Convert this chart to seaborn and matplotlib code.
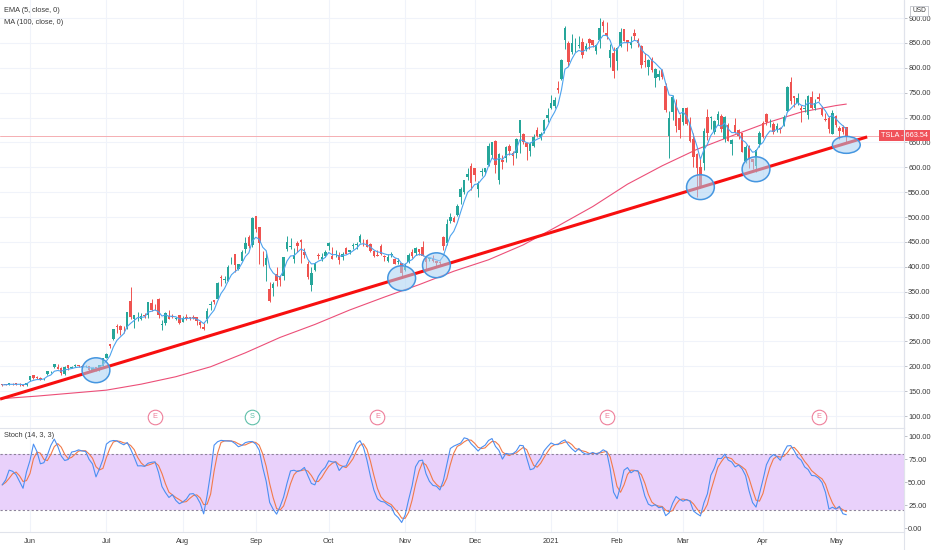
import numpy as np
import pandas as pd
import matplotlib
matplotlib.use("Agg")
import matplotlib.pyplot as plt
import matplotlib.transforms as mtransforms
from matplotlib.patches import Ellipse
import seaborn as sns

# TSLA daily candles, 2020-05-19 .. 2021-05-06 (one row per month)
opens = [
    163.0, 164.1, 163.2, 164.4, 166.0, 164.2, 162.7, 162.2,
    171.6, 182.0, 177.6, 177.0, 175.6, 183.8, 188.0, 198.4, 198.0, 196.0, 183.6, 202.4, 197.5, 200.6, 202.6, 200.6, 199.8, 199.8, 192.0, 198.0, 193.8, 201.3,
    216.6, 244.3, 255.3, 281.0, 281.0, 279.4, 279.2, 331.8, 295.4, 308.6, 295.4, 302.7, 303.8, 327.0, 319.8, 335.8, 283.2, 287.0, 300.8, 300.2, 294.0, 303.0,
    289.8, 299.0, 298.6, 298.2, 299.9, 289.6, 279.2, 294.0, 322.2, 333.0, 335.4, 379.8, 373.0, 372.1, 409.0, 425.3, 394.9, 412.0, 436.1, 459.0, 444.6,
    502.1, 479.0, 407.2, 402.8, 356.0, 356.6, 386.2, 381.9, 381.0, 436.6, 439.9, 415.6, 447.9, 453.1, 429.6, 405.2, 363.8, 393.5, 424.6, 416.0, 421.3,
    440.8, 421.4, 423.4, 423.8, 419.9, 438.4, 430.1, 442.0, 443.4, 449.8, 450.3, 454.4, 446.2, 431.8, 422.7, 441.9, 421.8, 411.6, 423.8, 416.5, 410.0, 406.9,
    394.0, 409.7, 430.6, 428.3, 436.1, 439.5, 420.1, 416.5, 415.1, 410.9, 408.9, 460.2, 448.4, 492.0, 498.0, 503.5, 540.4, 550.1, 581.2, 602.2,
    597.6, 556.4, 590.0, 591.0, 604.9, 625.5, 653.7, 574.4, 615.0, 619.0, 643.3, 628.2, 628.2, 668.9, 666.2, 648.0, 632.2, 643.0, 674.5, 661.0, 672.0, 700.0,
    719.5, 723.7, 758.5, 777.6, 856.0, 849.4, 831.0, 852.8, 843.4, 852.0, 837.8, 858.7, 855.0, 834.3, 855.0, 891.4, 870.4, 820.0, 830.0,
    814.3, 844.7, 877.0, 855.0, 845.0, 869.7, 855.1, 843.6, 812.4, 801.3, 818.0, 779.1, 780.9, 795.0, 762.6, 662.1, 711.9, 726.2, 700.0,
    690.1, 718.3, 688.0, 655.8, 626.1, 600.6, 608.2, 700.3, 699.4, 670.0, 694.1, 703.4, 656.9, 684.3, 646.6, 684.6, 675.8, 667.9, 613.0, 641.9, 615.6, 601.8, 646.6,
    688.4, 707.7, 690.3, 687.0, 677.4, 677.8, 685.7, 712.7, 770.7, 743.1, 728.7, 719.6, 717.4, 704.8, 741.5, 719.8, 741.0, 718.0, 696.4, 699.5, 667.6,
    703.8, 678.9, 681.1, 680.8,
]
highs = [
    164.4, 164.5, 166.3, 165.8, 166.8, 165.4, 164.9, 167.0,
    179.8, 182.0, 179.6, 179.2, 177.3, 190.0, 190.9, 205.5, 203.8, 197.6, 199.8, 202.6, 201.0, 203.8, 203.2, 201.6, 202.4, 200.2, 197.6, 199.0, 202.0, 217.5,
    227.1, 245.6, 275.6, 285.9, 283.5, 281.7, 309.8, 359.0, 304.0, 310.0, 306.3, 307.5, 330.0, 335.0, 325.3, 337.8, 293.0, 309.6, 312.9, 306.0, 299.0, 303.4,
    302.0, 305.5, 300.0, 303.5, 300.0, 291.5, 286.6, 317.0, 330.2, 333.8, 369.2, 384.0, 382.2, 404.4, 419.1, 425.8, 405.6, 433.2, 459.1, 463.7, 500.1,
    502.5, 479.0, 431.8, 428.0, 368.7, 369.0, 399.0, 382.5, 420.0, 461.9, 457.8, 437.8, 451.0, 455.7, 437.8, 412.2, 399.5, 408.7, 428.1, 428.5, 433.9,
    448.9, 439.1, 433.6, 428.8, 429.9, 439.0, 434.5, 448.7, 448.9, 465.9, 456.6, 455.0, 447.0, 431.8, 433.0, 445.2, 422.9, 425.8, 430.5, 418.6, 418.1, 407.6,
    407.0, 427.8, 435.4, 440.0, 436.6, 452.5, 420.1, 418.7, 423.0, 412.5, 412.5, 462.0, 496.0, 508.6, 502.5, 526.0, 560.0, 574.0, 598.8, 607.8,
    597.9, 571.5, 599.0, 599.0, 648.8, 651.3, 654.3, 627.8, 624.0, 642.8, 646.9, 632.5, 658.8, 695.0, 668.5, 649.9, 651.5, 666.1, 681.4, 669.9, 696.6, 718.7,
    744.5, 740.8, 774.0, 817.0, 884.5, 854.4, 868.0, 860.5, 863.0, 859.9, 850.0, 859.5, 855.7, 848.0, 900.4, 895.9, 891.5, 848.0, 842.4,
    842.0, 880.5, 878.1, 856.5, 864.8, 877.8, 859.8, 844.8, 829.9, 817.3, 821.0, 799.8, 794.7, 796.8, 768.5, 713.6, 745.0, 737.2, 706.7,
    719.0, 721.1, 700.7, 668.5, 627.8, 620.1, 678.1, 717.9, 702.5, 694.9, 713.2, 707.9, 703.7, 689.2, 657.2, 699.6, 677.8, 668.0, 645.5, 643.8, 616.5, 637.7, 672.0,
    692.4, 708.2, 696.6, 691.4, 689.6, 681.0, 704.8, 763.0, 780.8, 743.7, 749.4, 725.4, 737.3, 745.0, 753.8, 737.4, 749.3, 724.0, 708.5, 702.3, 715.5,
    706.0, 683.5, 685.3, 681.0,
]
lows = [
    161.2, 162.8, 161.6, 162.6, 163.3, 159.7, 160.8, 161.0,
    170.8, 175.3, 175.0, 171.7, 173.2, 181.8, 187.4, 196.5, 194.4, 182.5, 181.7, 192.5, 196.5, 198.9, 198.3, 198.0, 198.8, 190.0, 191.0, 190.0, 189.7, 200.8,
    216.1, 237.1, 253.2, 267.3, 262.3, 267.1, 275.2, 294.2, 277.5, 291.4, 293.2, 298.0, 297.6, 311.6, 312.4, 296.2, 273.3, 282.6, 294.9, 297.4, 293.0, 284.2,
    288.9, 293.0, 293.7, 295.5, 283.0, 277.2, 272.6, 287.0, 313.5, 325.0, 334.6, 362.0, 368.2, 371.4, 405.0, 388.5, 393.6, 410.7, 428.5, 437.3, 440.1,
    470.5, 405.1, 402.0, 372.0, 329.9, 341.5, 360.6, 360.5, 373.3, 430.7, 435.3, 408.0, 428.8, 407.1, 417.6, 375.9, 351.3, 391.3, 415.6, 411.6, 420.5,
    434.4, 415.0, 419.3, 406.1, 413.9, 425.3, 426.3, 436.6, 436.6, 447.4, 442.5, 438.9, 428.9, 419.1, 421.3, 424.5, 410.6, 410.0, 420.1, 406.0, 406.5, 379.1,
    392.3, 406.7, 417.1, 424.0, 424.3, 421.0, 396.0, 410.6, 409.5, 401.7, 404.1, 433.0, 443.5, 487.6, 489.1, 501.8, 526.2, 545.4, 574.6, 554.5,
    572.1, 541.2, 582.4, 585.5, 603.1, 618.5, 588.0, 566.3, 596.8, 610.2, 623.8, 605.0, 619.5, 628.5, 646.1, 614.2, 622.6, 641.0, 660.8, 655.0, 668.4, 691.1,
    717.2, 719.2, 749.1, 775.2, 838.4, 803.6, 827.3, 832.0, 838.8, 819.1, 833.0, 837.3, 841.4, 828.6, 838.8, 871.6, 858.7, 801.0, 780.1,
    795.6, 842.2, 853.1, 833.4, 839.0, 854.8, 841.8, 800.0, 801.7, 785.3, 792.4, 762.0, 776.3, 777.4, 710.2, 619.0, 694.2, 670.6, 659.5,
    685.1, 685.0, 651.7, 600.0, 539.5, 558.8, 595.2, 655.1, 677.2, 666.1, 684.0, 671.0, 651.0, 652.0, 624.6, 668.8, 657.5, 630.1, 609.5, 599.0, 596.0, 591.0, 641.1,
    659.4, 684.7, 681.4, 667.8, 671.7, 669.4, 682.1, 710.7, 728.0, 721.3, 724.6, 691.8, 710.7, 698.0, 718.0, 715.5, 732.6, 703.4, 693.6, 668.5, 666.1,
    680.5, 657.7, 667.3, 650.0,
]
closes = [
    162.7, 163.1, 165.5, 163.4, 163.8, 164.1, 161.2, 167.0,
    179.6, 176.3, 176.6, 172.9, 177.1, 190.0, 188.1, 205.0, 194.6, 187.1, 198.2, 196.4, 198.4, 200.8, 200.2, 198.9, 200.4, 192.2, 197.2, 191.9, 201.9, 216.0,
    223.9, 241.7, 274.3, 278.0, 273.2, 278.9, 308.9, 299.4, 303.4, 309.2, 300.1, 300.2, 328.6, 313.7, 318.5, 302.6, 283.4, 307.9, 295.3, 299.8, 297.5, 286.2,
    297.0, 297.4, 297.0, 297.9, 290.5, 283.7, 274.9, 311.0, 324.2, 330.1, 367.1, 377.4, 375.7, 400.4, 410.0, 402.8, 404.7, 430.6, 447.8, 442.7, 498.3,
    475.1, 447.4, 407.0, 418.3, 330.2, 366.3, 371.3, 372.7, 419.6, 449.8, 441.8, 423.4, 442.2, 449.4, 424.2, 380.4, 387.8, 407.3, 421.2, 419.1, 429.0,
    448.2, 415.1, 425.7, 414.0, 425.3, 425.9, 434.0, 442.3, 446.7, 461.3, 448.9, 439.7, 430.8, 421.9, 422.6, 425.8, 420.6, 420.3, 424.7, 406.0, 410.7, 388.0,
    400.5, 423.9, 421.0, 438.1, 430.0, 421.3, 410.4, 417.1, 411.8, 408.5, 408.1, 441.6, 486.6, 499.3, 489.6, 521.9, 555.4, 574.0, 585.8, 567.6,
    584.8, 568.8, 593.4, 599.0, 641.8, 649.9, 604.5, 627.1, 610.0, 639.8, 633.3, 622.8, 655.9, 695.0, 649.9, 640.3, 646.0, 661.8, 663.7, 666.0, 694.8, 705.7,
    729.8, 735.1, 756.0, 816.0, 880.0, 811.2, 849.4, 854.4, 845.0, 826.2, 844.6, 850.5, 845.0, 846.6, 880.8, 883.1, 864.2, 835.4, 793.5,
    839.8, 872.8, 854.7, 850.0, 852.2, 863.4, 849.5, 804.8, 811.7, 816.1, 796.2, 798.2, 787.4, 781.3, 714.5, 698.8, 742.0, 682.2, 675.5,
    718.4, 686.4, 653.2, 621.4, 598.0, 563.0, 673.6, 668.1, 699.6, 693.7, 707.9, 676.9, 701.8, 653.2, 654.9, 670.0, 662.2, 630.3, 640.4, 618.7, 611.3, 635.6, 667.9,
    661.8, 691.1, 691.6, 671.0, 683.8, 677.0, 702.0, 762.3, 732.2, 738.9, 739.8, 714.6, 719.0, 744.1, 719.7, 729.4, 738.2, 704.7, 694.4, 677.0, 709.4,
    684.9, 673.6, 670.9, 663.54,
]

# MA(100), every 10th session
ma100_idx = list(range(0, 241, 10)) + [243]
ma100 = [135, 140, 146, 152, 164, 179, 199, 227, 258, 284, 313, 339, 364,
         391, 414, 444, 482, 521, 566, 603, 636, 663, 689, 711, 724, 727]

holidays = ["2020-05-25", "2020-07-03", "2020-09-07", "2020-11-26", "2020-12-25",
            "2021-01-01", "2021-01-18", "2021-02-15", "2021-04-02"]
earnings_dates = ["2020-07-22", "2020-10-21", "2021-01-27", "2021-04-26"]
split_dates = ["2020-08-31"]

# support touches circled on the chart, and the drawn trend line
circle_dates = ["2020-06-26", "2020-10-30", "2020-11-13", "2021-03-08", "2021-03-30", "2021-05-06"]
circle_prices = [192, 377, 403, 560, 596, 645]
trend_x = [-0.6, 249.0]
trend_y = [134, 661]
last_price = 663.54

days = pd.bdate_range("2020-05-19", "2021-05-06")
days = days[~days.isin(pd.to_datetime(holidays))]
assert len(days) == len(opens) == len(highs) == len(lows) == len(closes)

df = pd.DataFrame({"open": opens, "high": highs, "low": lows, "close": closes}, index=days)
df["i"] = np.arange(len(df))
df["ema5"] = df["close"].ewm(span=5, adjust=False).mean()
ll = df["low"].rolling(14, min_periods=1).min()
hh = df["high"].rolling(14, min_periods=1).max()
raw = 100 * (df["close"] - ll) / (hh - ll)
df["k"] = raw.rolling(3, min_periods=1).mean()
df["d"] = df["k"].rolling(3, min_periods=1).mean()

def pos(d):
    return days.get_loc(pd.Timestamp(d))

sns.set_style("white")
plt.rcParams["font.family"] = ["Liberation Sans", "DejaVu Sans"]

W, H = 932, 550
fig = plt.figure(figsize=(W / 100, H / 100), dpi=100)
ax = fig.add_axes([0, (H - 428) / H, 904 / W, 428 / H])
ax2 = fig.add_axes([0, (H - 532) / H, 904 / W, 104 / H], sharex=ax)

xlim = (-0.63, 259.6)
grid_c = "#f0f3fa"
line_c = "#e0e3eb"
text_c = "#3a3a3a"
fs = 5.3

month_starts = [i for i in range(1, len(days)) if days[i].month != days[i - 1].month]
month_labels = ["2021" if days[i].month == 1 else days[i].strftime("%b") for i in month_starts]

# ---- price panel
for y in range(100, 901, 50):
    ax.axhline(y, color=grid_c, lw=0.8, zorder=0)
for m in month_starts:
    ax.axvline(m, color=grid_c, lw=0.8, zorder=0)
    ax2.axvline(m, color=grid_c, lw=0.8, zorder=0)

ax.axhline(last_price, color="#f5aeb2", lw=0.7, zorder=1)

sns.lineplot(x=ma100_idx, y=ma100, ax=ax, color="#ec4f78", lw=0.8, zorder=2)

up = df["close"] >= df["open"]
cols = np.where(up, "#26a69a", "#ef5350")
ax.vlines(df["i"], df["low"], df["high"], colors=cols, lw=0.7, zorder=3)
body_lo = np.minimum(df["open"], df["close"])
body_h = np.maximum((df["close"] - df["open"]).abs(), 1.0)
ax.bar(df["i"], body_h, bottom=body_lo, width=0.72, color=cols, lw=0, zorder=4)

sns.lineplot(x=df["i"], y=df["ema5"], ax=ax, color="#4da3ee", lw=0.8, zorder=5)

ax.plot(trend_x, trend_y, color="#f70f0f", lw=2.2, solid_capstyle="butt", zorder=6)

circle_h = [50, 50, 50, 50, 50, 34]
for d, p, h in zip(circle_dates, circle_prices, circle_h):
    ax.add_patch(Ellipse((pos(d), p), width=8.0, height=h, facecolor="#a8d1f4",
                         alpha=0.55, edgecolor="none", zorder=7))
    ax.add_patch(Ellipse((pos(d), p), width=8.0, height=h, facecolor="none",
                         edgecolor="#4596e0", lw=1.1, zorder=8))

# event markers along the bottom of the price panel
tr = mtransforms.blended_transform_factory(ax.transData, ax.transAxes)
for dates, letter, c in [(earnings_dates, "E", "#ee7f9a"), (split_dates, "S", "#5fbfa9")]:
    for d in dates:
        ax.scatter([pos(d)], [0.026], s=110, transform=tr, facecolor="white",
                   edgecolor=c, lw=0.8, zorder=9, clip_on=False)
        ax.text(pos(d), 0.026, letter, transform=tr, color=c, fontsize=fs,
                ha="center", va="center", zorder=10)

ax.set_xlim(*xlim)
ax.set_ylim(75.9, 936.2)
ax.yaxis.tick_right()
ax.set_yticks(range(100, 901, 50))
ax.set_yticklabels([f"{v:.2f}" for v in range(100, 901, 50)])
ax.tick_params(axis="y", labelsize=fs, labelcolor=text_c, color="#b2b5be",
               length=2, width=0.6, pad=1)
ax.tick_params(axis="x", bottom=False, labelbottom=False)
ax.set_xlabel("")
ax.set_ylabel("")
for s in ["top", "left", "bottom"]:
    ax.spines[s].set_visible(False)
ax.spines["right"].set_color(line_c)
ax.spines["right"].set_linewidth(0.8)

# last price tag straddling the price scale
ytr = mtransforms.blended_transform_factory(fig.transFigure, ax.transData)
ax.text(928 / W, last_price, "TSLA - 663.54", transform=ytr, ha="right", va="center",
        fontsize=fs, color="white", zorder=11, clip_on=False,
        bbox=dict(boxstyle="square,pad=0.3", fc="#f0525a", ec="none"))

fig.text(4 / W, 1 - 11 / H, "EMA (5, close, 0)", fontsize=fs, color=text_c, va="center")
fig.text(4 / W, 1 - 23 / H, "MA (100, close, 0)", fontsize=fs, color=text_c, va="center")
fig.text(919 / W, 1 - 11 / H, "USD", fontsize=4.8, color=text_c, ha="center", va="center",
         bbox=dict(boxstyle="square,pad=0.25", fc="white", ec="#b2b5be", lw=0.5))

# ---- stochastic panel
ax2.axhspan(20, 80, color="#e9d1fb", lw=0, zorder=0)
for y in (20, 80):
    ax2.axhline(y, color="#8c8299", lw=0.8, ls=(0, (2, 2)), zorder=1)
sns.lineplot(x=df["i"], y=df["d"], ax=ax2, color="#f27a4a", lw=0.8, zorder=2)
sns.lineplot(x=df["i"], y=df["k"], ax=ax2, color="#4b8ff2", lw=0.8, zorder=3)

ax2.set_xlim(*xlim)
ax2.set_ylim(-4.3, 108.7)
ax2.yaxis.tick_right()
ax2.set_yticks([0, 25, 50, 75, 100])
ax2.set_yticklabels([f"{v:.2f}" for v in [0, 25, 50, 75, 100]])
ax2.tick_params(axis="y", labelsize=fs, labelcolor=text_c, color="#b2b5be",
                length=2, width=0.6, pad=1)
ax2.set_xticks(month_starts)
ax2.set_xticklabels(month_labels)
ax2.tick_params(axis="x", labelsize=fs, labelcolor=text_c, length=0, pad=4)
ax2.set_xlabel("")
ax2.set_ylabel("")
ax2.spines["left"].set_visible(False)
for s in ["top", "bottom", "right"]:
    ax2.spines[s].set_color(line_c)
    ax2.spines[s].set_linewidth(0.8)
ax2.text(0.004, 0.93, "Stoch (14, 3, 3)", transform=ax2.transAxes, fontsize=fs,
         color=text_c, va="center")

fig.add_artist(plt.Line2D([904 / W, 904 / W], [0, 1], color=line_c, lw=0.8))

fig.savefig("out.png", dpi=100, facecolor="white")
